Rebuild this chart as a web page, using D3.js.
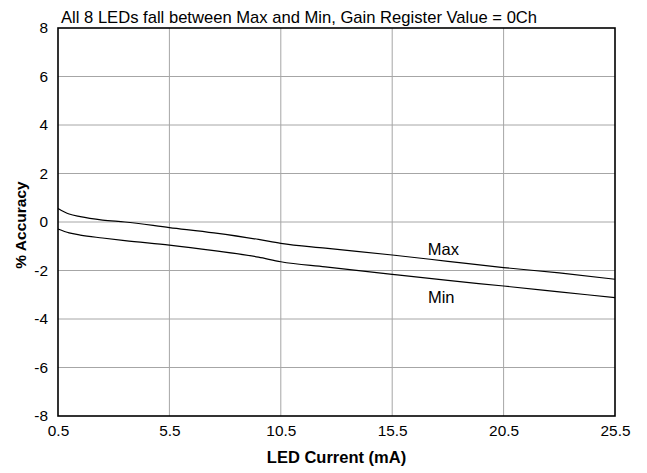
<!DOCTYPE html>
<html><head><meta charset="utf-8">
<script src="https://cdn.jsdelivr.net/npm/d3@7"></script>
<style>body{margin:0;background:#fff}svg{display:block;font-family:"Liberation Sans",Arial,sans-serif}</style>
</head><body><svg id="c" width="647" height="473"></svg>
<script>
const current = [0.5, 1, 1.5, 2.5, 3.5, 5.5, 7.5, 9.5, 10.5, 12.5, 15.5, 18, 20.5, 23, 25.5];
const maxAcc = [0.56, 0.33, 0.22, 0.08, 0.0, -0.23, -0.45, -0.72, -0.88, -1.08, -1.36, -1.62, -1.88, -2.1, -2.36];
const minAcc = [-0.29, -0.45, -0.54, -0.66, -0.77, -0.95, -1.18, -1.45, -1.64, -1.85, -2.16, -2.41, -2.64, -2.88, -3.12];
const xTicks = [0.5, 5.5, 10.5, 15.5, 20.5, 25.5];
const yTicks = [-8, -6, -4, -2, 0, 2, 4, 6, 8];
const titleText = "All 8 LEDs fall between Max and Min, Gain Register Value = 0Ch";
const xTitle = "LED Current (mA)";
const yTitle = "% Accuracy";
const seriesLabels = [{name: "Max", x: 17.8, y: -1.36}, {name: "Min", x: 17.7, y: -3.33}];

const svg = d3.select("#c");
const L = 58, R = 615, T = 28, B = 416;
const x = d3.scaleLinear().domain([0.5, 25.5]).range([L, R]);
const y = d3.scaleLinear().domain([-8, 8]).range([B, T]);

// grid
svg.append("g").selectAll("line").data(xTicks.slice(1, -1)).join("line")
  .attr("x1", d => x(d)).attr("x2", d => x(d)).attr("y1", T).attr("y2", B)
  .attr("stroke", "#a6a6a6").attr("stroke-width", 1);
svg.append("g").selectAll("line").data(yTicks.slice(1, -1)).join("line")
  .attr("x1", L).attr("x2", R).attr("y1", d => y(d)).attr("y2", d => y(d))
  .attr("stroke", "#a6a6a6").attr("stroke-width", 1);

// axes (labels only)
const xa = svg.append("g").attr("transform", `translate(0,${B})`)
  .call(d3.axisBottom(x).tickValues(xTicks).tickSize(0).tickPadding(9).tickFormat(d => d.toFixed(1)));
const ya = svg.append("g").attr("transform", `translate(${L},0)`)
  .call(d3.axisLeft(y).tickValues(yTicks).tickSize(0).tickPadding(10).tickFormat(d => String(d)));
[xa, ya].forEach(a => {
  a.select(".domain").remove();
  a.selectAll("text").attr("font-size", 15.4).attr("fill", "#000").attr("font-family", "Liberation Sans, Arial, sans-serif");
});

// frame
svg.append("rect").attr("x", L).attr("y", T).attr("width", R - L).attr("height", B - T)
  .attr("fill", "none").attr("stroke", "#000").attr("stroke-width", 1.6);

// lines
const line = d3.line().x(d => x(d[0])).y(d => y(d[1])).curve(d3.curveMonotoneX);
[maxAcc, minAcc].forEach(s => {
  svg.append("path").datum(current.map((c, i) => [c, s[i]]))
    .attr("d", line).attr("fill", "none").attr("stroke", "#000").attr("stroke-width", 1.2);
});

// series labels
svg.append("g").selectAll("text").data(seriesLabels).join("text")
  .attr("x", d => x(d.x)).attr("y", d => y(d.y)).attr("font-size", 16.5)
  .attr("text-anchor", "middle").text(d => d.name);

// titles
svg.append("text").attr("x", 61).attr("y", 22.5).attr("font-size", 16.6).text(titleText);
svg.append("text").attr("x", (L + R) / 2).attr("y", 463).attr("font-size", 16.5)
  .attr("font-weight", "bold").attr("text-anchor", "middle").text(xTitle);
svg.append("text").attr("transform", `translate(26,225) rotate(-90)`).attr("font-size", 15.5)
  .attr("font-weight", "bold").attr("text-anchor", "middle").text(yTitle);
</script></body></html>
